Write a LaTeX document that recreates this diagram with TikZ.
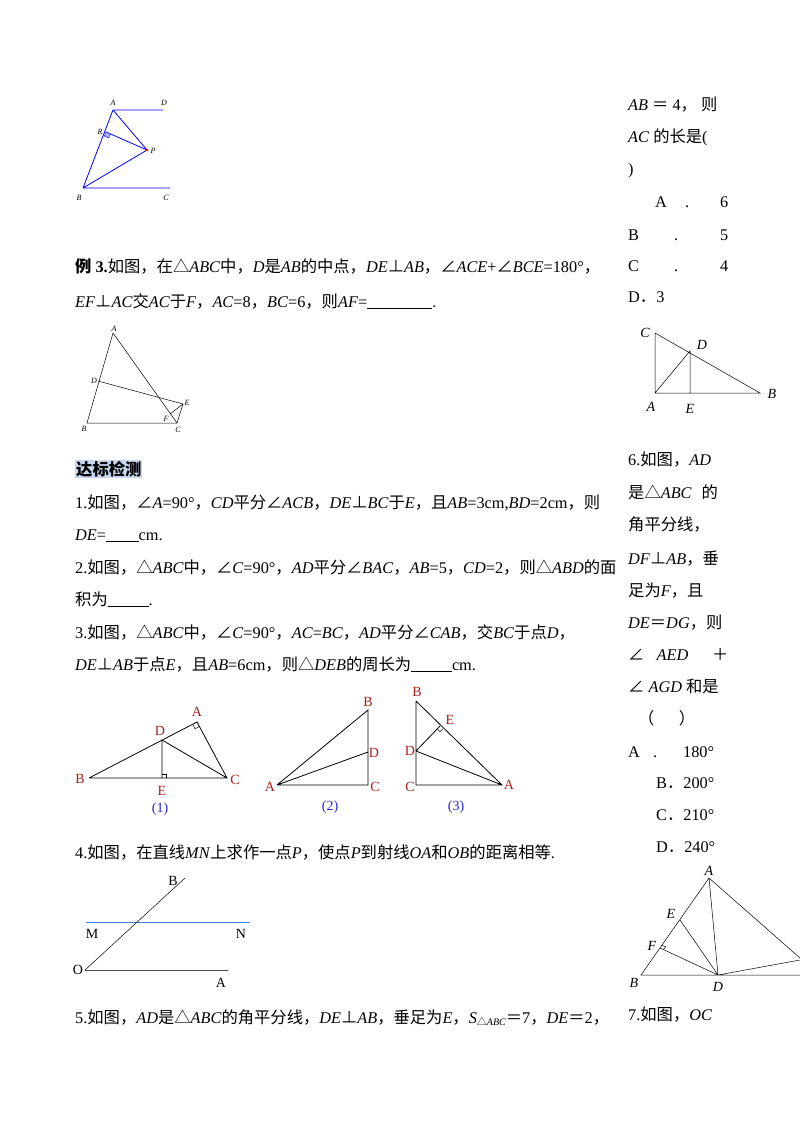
\documentclass[tikz,border=0pt]{standalone}
\usepackage{fontspec}
\setmainfont{Liberation Serif}
\newfontfamily\cjk{Noto Sans CJK SC}
\makeatletter
\XeTeXinterchartokenstate=1
\newXeTeXintercharclass\cjkclass
\count@="4E00
\loop\ifnum\count@<"9FFF \XeTeXcharclass\count@=\cjkclass \advance\count@ by 1 \repeat
\count@="3000
\loop\ifnum\count@<"3040 \XeTeXcharclass\count@=\cjkclass \advance\count@ by 1 \repeat
\count@="FF00
\loop\ifnum\count@<"FF60 \XeTeXcharclass\count@=\cjkclass \advance\count@ by 1 \repeat
\XeTeXcharclass"2220=\cjkclass
\XeTeXcharclass"22A5=\cjkclass
\XeTeXcharclass"25B3=\cjkclass
\makeatother
\XeTeXinterchartoks 0 \cjkclass = {\begingroup\cjk}
\XeTeXinterchartoks 4095 \cjkclass = {\begingroup\cjk}
\XeTeXinterchartoks \cjkclass 0 = {\endgroup}
\XeTeXinterchartoks \cjkclass 4095 = {\endgroup}
\definecolor{lblred}{RGB}{170,30,30}
\definecolor{lblblue}{RGB}{40,40,220}
\definecolor{mnblue}{RGB}{60,130,220}
\definecolor{hl}{RGB}{200,215,240}
\tikzset{
  tx/.style={anchor=base west,inner sep=0pt,font=\fontsize{16.3}{16.3}\selectfont},
  sl/.style={font=\fontsize{8}{8}\selectfont\itshape,inner sep=1pt},
  rl/.style={font=\fontsize{14}{14}\selectfont,text=lblred,inner sep=1pt},
  il/.style={font=\fontsize{14}{14}\selectfont\itshape,inner sep=1pt},
  bl/.style={draw=blue,line width=0.8pt},
  gl/.style={draw=black,line width=0.5pt},
  kl/.style={draw=black,line width=0.8pt}
}
\begin{document}
\begin{tikzpicture}[x=1pt,y=-1pt]
\useasboundingbox[fill=white] (0,0) rectangle (800,1132);
% figure 1 (blue)
\coordinate (fA) at (113,110); \coordinate (fD) at (163,110);
\coordinate (fB) at (83,188); \coordinate (fC) at (170,188);
\coordinate (fP) at (147,150); \coordinate (fR) at (106,132);
\draw[bl] (fA)--(fD) (fB)--(fC) (fA)--(fB) (fA)--(fP) (fB)--(fP) (fR)--(fP);
\draw[blue,fill=blue!30] (fR) -- ++(4.5,2) -- ++(-1.8,4) -- ++(-4.5,-2) -- cycle;
\fill[red] (fP) circle (1.3);
\node[sl] (lA) at (113,103) {A}; \node[sl] (lD) at (164,103) {D};
\node[sl] (lR) at (100,132) {R}; \node[sl] (lP) at (153,151) {P};
\node[sl] (lB) at (79,198) {B}; \node[sl] (lC) at (166,198) {C};
% example 3 text
\node[tx] (t1) at (75,272) {\textbf{例 3.}如图，在△\textit{ABC}中，\textit{D}是\textit{AB}的中点，\textit{DE}⊥\textit{AB}，∠\textit{ACE}+∠\textit{BCE}=180°，};
\node[tx] (t2) at (75,307) {\textit{EF}⊥\textit{AC}交\textit{AC}于\textit{F}，\textit{AC}=8，\textit{BC}=6，则\textit{AF}=\underline{\hspace{4em}}.};
% example 3 figure
\coordinate (eA) at (113,333); \coordinate (eB) at (87,423); \coordinate (eC) at (177,423);
\coordinate (eD) at (98,381); \coordinate (eE) at (183,404); \coordinate (eF) at (170,414);
\draw[gl] (eA)--(eB)--(eC)--(eA) (eD)--(eE)--(eC) (eF)--(eE);
\node[sl] at (114,329) {A}; \node[sl] at (94,381) {D}; \node[sl] at (187,403) {E};
\node[sl] at (166,419) {F}; \node[sl] at (84,429) {B}; \node[sl] at (178,430) {C};
% heading
\node[tx,fill=hl,inner sep=1pt] (h) at (75,475) {\textbf{\cjk 达标检测}};
\node[tx] at (75,508) {1.如图，∠\textit{A}=90°，\textit{CD}平分∠\textit{ACB}，\textit{DE}⊥\textit{BC}于\textit{E}，且\textit{AB}=3cm,\textit{BD}=2cm，则};
\node[tx] at (75,540) {\textit{DE}=\underline{\hspace{2em}}cm.};
\node[tx] at (75,573) {2.如图，△\textit{ABC}中，∠\textit{C}=90°，\textit{AD}平分∠\textit{BAC}，\textit{AB}=5，\textit{CD}=2，则△\textit{ABD}的面};
\node[tx] at (75,605) {积为\underline{\hspace{2.5em}}.};
\node[tx] at (75,638) {3.如图，△\textit{ABC}中，∠\textit{C}=90°，\textit{AC}=\textit{BC}，\textit{AD}平分∠\textit{CAB}，交\textit{BC}于点\textit{D}，};
\node[tx] at (75,670) {\textit{DE}⊥\textit{AB}于点\textit{E}，且\textit{AB}=6cm，则△\textit{DEB}的周长为\underline{\hspace{2.5em}}cm.};
% fig (1)
\coordinate (aB) at (89,778); \coordinate (aC) at (227,778); \coordinate (aA) at (197,722);
\coordinate (aD) at (162,740); \coordinate (aE) at (162,778);
\draw[kl] (aB)--(aA)--(aC)--(aB) (aD)--(aE) (aD)--(aC);
\draw[gl] (aE)++(0,-4)--++(4,0)--++(0,4);
\draw[gl] (192.6,724.3) -- (195,728.7) -- (199.4,726.4);
\node[rl] at (80,779) {B}; \node[rl] at (197,712) {A}; \node[rl] at (160,731) {D};
\node[rl] at (235,780) {C}; \node[rl] at (162,791) {E};
\node[font=\fontsize{14}{14}\selectfont,text=lblblue] at (160,809) {(1)};
% fig (2)
\coordinate (bA) at (277,785); \coordinate (bC) at (368,785); \coordinate (bB) at (368,710); \coordinate (bD) at (368,752);
\draw[kl] (bA)--(bB)--(bC)--(bA) (bA)--(bD);
\node[rl] at (368,702) {B}; \node[rl] at (374,753) {D}; \node[rl] at (375,787) {C}; \node[rl] at (270,787) {A};
\node[font=\fontsize{14}{14}\selectfont,text=lblblue] at (330,807) {(2)};
% fig (3)
\coordinate (cB) at (416,701); \coordinate (cC) at (416,785); \coordinate (cA) at (502,785);
\coordinate (cD) at (416,751); \coordinate (cE) at (440,726);
\draw[kl] (cB)--(cC)--(cA)--(cB) (cD)--(cE) (cD)--(cA);
\draw[gl] (437.2,729) -- (440,731.8) -- (442.8,729);
\node[rl] at (417,692) {B}; \node[rl] at (450,720) {E}; \node[rl] at (410,751) {D};
\node[rl] at (410,787) {C}; \node[rl] at (509,785) {A};
\node[font=\fontsize{14}{14}\selectfont,text=lblblue] at (456,807) {(3)};
% problem 4
\node[tx] at (75,858) {4.如图，在直线\textit{MN}上求作一点\textit{P}，使点\textit{P}到射线\textit{OA}和\textit{OB}的距离相等.};
\coordinate (mM) at (86,922); \coordinate (mN) at (250,922);
\coordinate (mO) at (85,970); \coordinate (mA) at (228,970); \coordinate (mB) at (185,878);
\draw[mnblue,line width=0.8pt] (mM)--(mN);
\draw[gl] (mO)--(mB);
\draw[black!70,line width=0.9pt] (mO)--(mA);
\node[rl,text=black] at (92,934) {M}; \node[rl,text=black] at (241,934) {N};
\node[rl,text=black] at (78,970) {O}; \node[rl,text=black] at (173,881) {B};
\node[rl,text=black] at (221,983) {A};
% problem 5
\node[tx] at (75,1023) {5.如图，\textit{AD}是△\textit{ABC}的角平分线，\textit{DE}⊥\textit{AB}，垂足为\textit{E}，\textit{S}\raisebox{-2pt}{\fontsize{10}{10}\selectfont △\textit{ABC}}＝7，\textit{DE}＝2，};
% right column
\node[tx] at (628,110) {\textit{AB} ＝ 4， 则};
\node[tx] at (628,142) {\textit{AC} 的长是(};
\node[tx] at (628,174) {)};
\node[tx] at (655,207) {A}; \node[tx] at (685,207) {.}; \node[tx] at (720,207) {6};
\node[tx] at (628,240) {B}; \node[tx] at (674,240) {.}; \node[tx] at (720,240) {5};
\node[tx] at (628,271) {C}; \node[tx] at (674,271) {.}; \node[tx] at (720,271) {4};
\node[tx] at (628,302) {D．3};
\coordinate (rC) at (655,333); \coordinate (rA) at (655,393); \coordinate (rB) at (760,393);
\coordinate (rD) at (690,351); \coordinate (rE) at (690,393);
\draw[gl] (rC)--(rA)--(rB)--(rC) (rA)--(rD)--(rE);
\node[il] at (645,333) {C}; \node[il] at (702,345) {D}; \node[il] at (772,394) {B};
\node[il] at (651,407) {A}; \node[il] at (690,409) {E};
\node[tx] at (628,465) {6.如图，\textit{AD}};
\node[tx] at (628,498) {是△\textit{ABC}\hspace{0.6em}的};
\node[tx] at (628,530) {角平分线，};
\node[tx] at (628,564) {\textit{DF}⊥\textit{AB}，垂};
\node[tx] at (628,596) {足为\textit{F}，且};
\node[tx] at (628,628) {\textit{DE}＝\textit{DG}，则};
\node[tx] at (628,660) {∠ \hspace{0.5em}\textit{AED} \hspace{1.2em}＋};
\node[tx] at (628,692) {∠ \textit{AGD} 和是};
\node[tx] at (638,724) {（\hspace{1.5em}）};
\node[tx] at (628,757) {A\hspace{0.8em}.\hspace{1.6em}180°};
\node[tx] at (656,788) {B．200°};
\node[tx] at (656,820) {C．210°};
\node[tx] at (656,852) {D．240°};
\coordinate (sA) at (709,878); \coordinate (sB) at (641,975); \coordinate (sD) at (718,975);
\coordinate (sE) at (680,920); \coordinate (sF) at (660,948);
\coordinate (sR) at (800,975); \coordinate (sG) at (800,960); \coordinate (sT) at (800,958);
\draw[gl] (sA)--(sB)--(sR) (sA)--(sT) (sA)--(sD) (sE)--(sD) (sF)--(sD) (sD)--(sG);
\draw[gl] (661.9,945.3) -- (665.6,946.6) -- (663.7,949.3);
\node[il] at (709,871) {A}; \node[il] at (671,914) {E}; \node[il] at (652,946) {F};
\node[il] at (634,983) {B}; \node[il] at (718,987) {D};
\node[tx] at (628,1020) {7.如图，\textit{OC}};
\end{tikzpicture}
\end{document}
